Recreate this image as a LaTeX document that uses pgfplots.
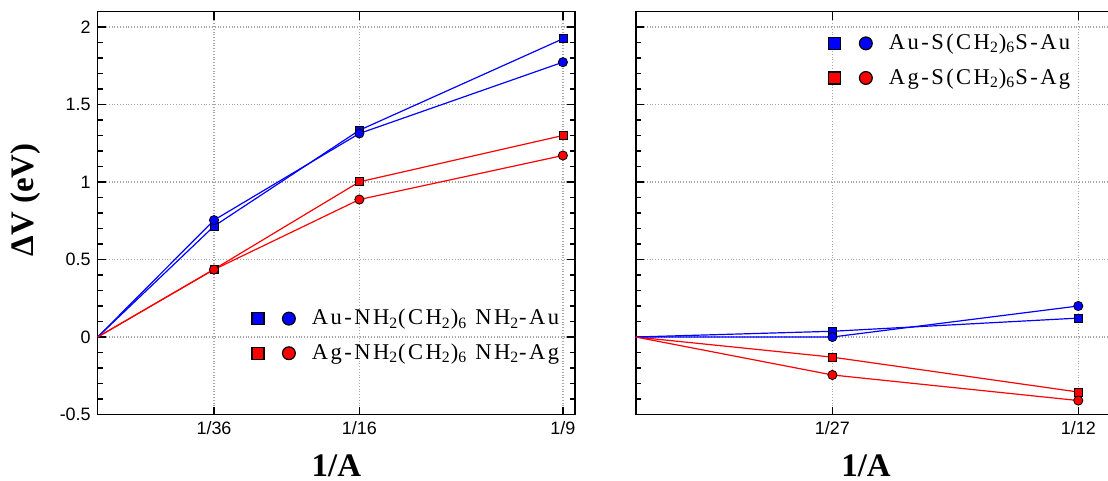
\documentclass[border=0pt]{standalone}
\usepackage{pgfplots}
\pgfplotsset{compat=1.18}
\usepackage{fontspec}
\setmainfont{Liberation Serif}
\newfontfamily\helv{Liberation Sans}
\newfontfamily\legfont[LetterSpace=11]{Liberation Serif}

\pgfplotsset{
  panel/.style={
    scale only axis, height=201.5bp,
    ymin=-0.5, ymax=2.1, ytick={-0.5,0,...,2}, minor y tick num=4,
    scaled x ticks=false, scaled y ticks=false,
    grid=major, major grid style={densely dotted, gray!70, line width=0.6pt},
    axis line style={line width=0.8pt},
    tick style={black, line width=0.6pt}, major tick length=4bp, minor tick length=2.5bp,
    tick label style={font=\helv\fontsize{9}{10}\selectfont},
    /pgf/number format/assume math mode=true,
    label style={font=\fontsize{16.5}{18}\selectfont\bfseries},
    legend style={draw=none, fill=none, inner sep=0pt, nodes={inner sep=0pt},
      font=\legfont\fontsize{11.3}{13}\selectfont, row sep=8bp},
    legend cell align=left,
  },
  sq/.style={#1, line width=0.6pt, mark=square*, mark size=2bp, mark indices={2,3,4},
    mark options={fill=#1, draw=black, line width=0.4pt, solid}},
  ci/.style={#1, line width=0.6pt, mark=*, mark size=2.3bp, mark indices={2,3,4},
    mark options={fill=#1, draw=black, line width=0.4pt, solid}},
  pair/.style={legend image code/.code={
      \draw[fill=#1, draw=black, line width=0.6pt] (0bp,-3bp) rectangle (6bp,3bp);
      \draw[fill=#1, draw=black, line width=0.6pt] (18.5bp,0bp) circle (3.2bp);
      \path[draw=none] (0bp,0bp) -- (30bp,0bp);
  }},
}

\begin{document}
\begin{tikzpicture}
\begin{axis}[panel, at={(0,0)}, anchor=south west, width=238.65bp,
  xmin=0, xmax=0.114,
  xtick={0.027778,0.0625,0.111111}, xticklabels={1/36,1/16,1/9},
  xlabel={1/A}, ylabel={ΔV (eV)},
  xlabel style={at={(axis description cs:0.5,-0.128)}, anchor=center},
  ylabel style={at={(axis description cs:-0.152,0.532)}, anchor=center},
  legend style={at={(axis description cs:0.321,0.262)}, anchor=north west}]
  \addplot[sq=blue, forget plot] coordinates {(0,0) (0.027778,0.715) (0.0625,1.334) (0.111111,1.924)};
  \addplot[sq=red, forget plot] coordinates {(0,0) (0.027778,0.437) (0.0625,1.001) (0.111111,1.300)};
  \addplot[ci=blue, forget plot] coordinates {(0,0) (0.027778,0.754) (0.0625,1.313) (0.111111,1.773)};
  \addplot[ci=red, forget plot] coordinates {(0,0) (0.027778,0.435) (0.0625,0.887) (0.111111,1.171)};
  \addlegendimage{pair=blue}
  \addlegendentry{Au-NH\textsubscript{2}(CH\textsubscript{2})\textsubscript{6} NH\textsubscript{2}-Au}
  \addlegendimage{pair=red}
  \addlegendentry{Ag-NH\textsubscript{2}(CH\textsubscript{2})\textsubscript{6} NH\textsubscript{2}-Ag}
\end{axis}
\begin{axis}[panel, at={(269bp,0)}, anchor=south west, width=241.4bp,
  xmin=0, xmax=0.090909,
  xtick={0.037037,0.083333}, xticklabels={1/27,1/12}, yticklabels={},
  xlabel={1/A},
  xlabel style={at={(axis description cs:0.477,-0.128)}, anchor=center},
  legend style={at={(axis description cs:0.398,0.945)}, anchor=north west}]
  \addplot[sq=blue, forget plot] coordinates {(0,0) (0.037037,0.037) (0.083333,0.122)};
  \addplot[sq=red, forget plot] coordinates {(0,0) (0.037037,-0.130) (0.083333,-0.355)};
  \addplot[ci=blue, forget plot] coordinates {(0,0) (0.037037,0.000) (0.083333,0.200)};
  \addplot[ci=red, forget plot] coordinates {(0,0) (0.037037,-0.245) (0.083333,-0.410)};
  \addlegendimage{pair=blue}
  \addlegendentry{Au-S(CH\textsubscript{2})\textsubscript{6}S-Au}
  \addlegendimage{pair=red}
  \addlegendentry{Ag-S(CH\textsubscript{2})\textsubscript{6}S-Ag}
\end{axis}
\pgfresetboundingbox
\useasboundingbox (-48.85bp,-33.25bp) rectangle (505.15bp,207.25bp);
\end{tikzpicture}
\end{document}
